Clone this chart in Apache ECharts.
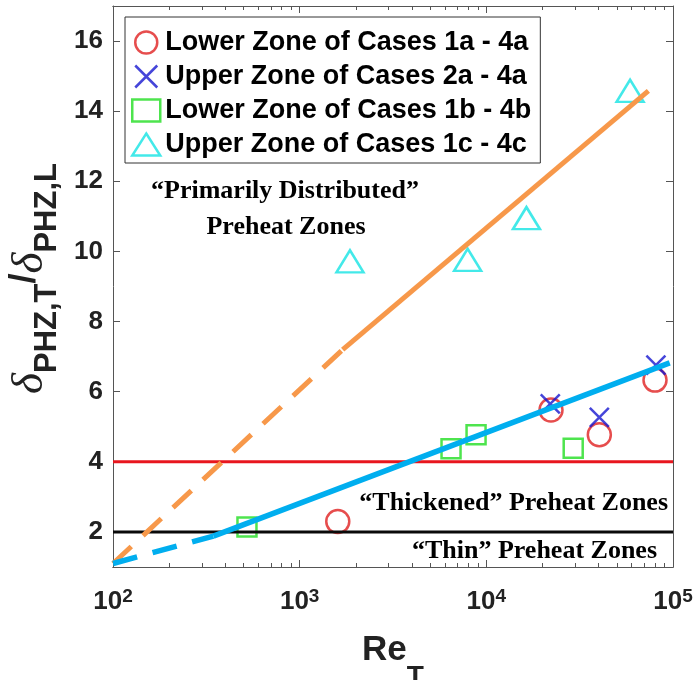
<!DOCTYPE html>
<html><head><meta charset="utf-8">
<script src="https://cdn.jsdelivr.net/npm/echarts@6/dist/echarts.min.js"></script>
<style>html,body{margin:0;padding:0;background:#fff}#c{width:697px;height:680px}</style>
</head><body><div id="c"></div>
<script>
// ---- data ----
const seriesNames = ['Lower Zone of Cases 1a - 4a','Upper Zone of Cases 2a - 4a','Lower Zone of Cases 1b - 4b','Upper Zone of Cases 1c - 4c'];
const lowerA_x = [1600, 22200, 40300, 80100];
const lowerA_y = [2.30, 5.48, 4.77, 6.33];
const upperA_x = [22000, 40300, 81000];
const upperA_y = [5.65, 5.27, 6.76];
const lowerB_x = [522, 6470, 8810, 29200];
const lowerB_y = [2.14, 4.37, 4.77, 4.39];
const upperC_x = [1860, 7940, 16400, 58900];
const upperC_y = [9.72, 9.76, 10.95, 14.58];
// fitted trend lines (end points)
const orangeDash_x = [100, 1700];   const orangeDash_y = [1.1, 7.2];
const orangeSolid_x = [1700, 73800]; const orangeSolid_y = [7.2, 14.58];
const blueDash_x = [100, 345];      const blueDash_y = [1.1, 1.88];
const blueSolid_x = [345, 96000];   const blueSolid_y = [1.88, 6.82];
const redLine_x = [100, 100000];    const redLine_y = [4, 4];
const blackLine_x = [100, 100000];  const blackLine_y = [2, 2];
// ticks
const xMajor = [100, 1000, 10000, 100000];
const xMinor = [200,300,400,500,600,700,800,900,2000,3000,4000,5000,6000,7000,8000,9000,20000,30000,40000,50000,60000,70000,80000,90000];
const yTicks = [2, 4, 6, 8, 10, 12, 14, 16];

const zip = (a, b) => a.map((v, i) => [v, b[i]]);
const SANS = 'Liberation Sans', SERIF = 'Liberation Serif';
const AX = '#555';

const xSymbol = 'path://M0,0L10,10M10,0L0,10';

function xBase(pos, len, vals, labels) {
  return {
    type: 'log', logBase: 10, min: 100, max: 100000, position: pos,
    axisLine: { show: true, onZero: false, lineStyle: { color: AX, width: 1 } },
    splitLine: { show: false }, minorTick: { show: false },
    axisTick: { show: true, inside: true, length: len, customValues: vals, lineStyle: { color: AX, width: 1 } },
    axisLabel: labels ? labels : { show: false }
  };
}
function yBase(pos, labels) {
  return {
    type: 'value', min: 1, max: 17, position: pos,
    axisLine: { show: true, onZero: false, lineStyle: { color: AX, width: 1 } },
    splitLine: { show: false },
    axisTick: { show: true, inside: true, length: 7, customValues: yTicks, lineStyle: { color: AX, width: 1 } },
    axisLabel: labels ? labels : { show: false }
  };
}

const xLabels = {
  show: true, customValues: xMajor, margin: 20,
  formatter: v => '{b|10}{p|' + Math.round(Math.log10(v)) + '}',
  rich: {
    b: { fontFamily: SANS, fontWeight: 'bold', fontSize: 26, color: '#222', lineHeight: 28, verticalAlign: 'bottom' },
    p: { fontFamily: SANS, fontWeight: 'bold', fontSize: 19, color: '#222', lineHeight: 12, verticalAlign: 'top' }
  }
};
const yLabels = {
  show: true, customValues: yTicks, margin: 10,
  fontFamily: SANS, fontWeight: 'bold', fontSize: 26, color: '#222'
};

const xa0 = xBase('bottom', 7, xMajor, xLabels);
xa0.name = '{b|Re}{t|T}';
xa0.nameLocation = 'middle';
xa0.nameGap = 66;
xa0.nameTextStyle = { rich: {
  b: { fontFamily: SANS, fontWeight: 'bold', fontSize: 35, color: '#222', lineHeight: 36, verticalAlign: 'top' },
  t: { fontFamily: SANS, fontWeight: 'bold', fontSize: 28, color: '#222', lineHeight: 58, verticalAlign: 'bottom' }
}};

const ya0 = yBase('left', yLabels);
ya0.name = '{d|δ}{s|PHZ,T}{sl|/}{d|δ}{s|PHZ,L}';
ya0.nameLocation = 'middle';
ya0.nameRotate = 90;
ya0.nameGap = 36;
ya0.nameTextStyle = { padding: [0, 0, 0, 16], rich: {
  d: { fontFamily: SERIF, fontStyle: 'italic', fontSize: 45, color: '#222', lineHeight: 36, verticalAlign: 'top' },
  s: { fontFamily: SANS, fontWeight: 'bold', fontSize: 31, color: '#222', lineHeight: 56, verticalAlign: 'bottom' },
  sl: { fontFamily: SANS, fontWeight: 'bold', fontSize: 36, color: '#222', lineHeight: 36, verticalAlign: 'top' }
}};

function lineSeries(xs, ys, color, width, type) {
  return { type: 'line', data: zip(xs, ys), showSymbol: false, symbol: 'none', silent: true, z: 5,
    lineStyle: { color: color, width: width, type: type, cap: 'butt' } };
}

const option = {
  animation: false,
  backgroundColor: '#fff',
  grid: { left: 113, right: 24, top: 6, bottom: 113, containLabel: false, outerBoundsMode: 'none' },
  xAxis: [ xa0, xBase('bottom', 4, xMinor), xBase('top', 7, xMajor), xBase('top', 4, xMinor) ],
  yAxis: [ ya0, yBase('right') ],
  legend: {
    orient: 'vertical', left: 125, top: 17,
    itemWidth: 28, itemHeight: 22, itemGap: 7,
    padding: [12, 9, 5, 6],
    borderColor: '#333', borderWidth: 1, backgroundColor: '#fff',
    textStyle: { fontFamily: SANS, fontWeight: 'bold', fontSize: 27, color: '#000' },
    itemStyle: { borderWidth: 2.5 },
    data: seriesNames
  },
  graphic: [
    { type: 'text', x: 285, y: 191, style: { text: '\u201cPrimarily Distributed\u201d', fontFamily: SERIF, fontWeight: 'bold', fontSize: 26, fill: '#000', align: 'center', verticalAlign: 'middle' } },
    { type: 'text', x: 286, y: 227, style: { text: 'Preheat Zones', fontFamily: SERIF, fontWeight: 'bold', fontSize: 26, fill: '#000', align: 'center', verticalAlign: 'middle' } },
    { type: 'text', x: 668, y: 503, style: { text: '\u201cThickened\u201d Preheat Zones', fontFamily: SERIF, fontWeight: 'bold', fontSize: 26, fill: '#000', align: 'right', verticalAlign: 'middle' } },
    { type: 'text', x: 657, y: 551, style: { text: '\u201cThin\u201d Preheat Zones', fontFamily: SERIF, fontWeight: 'bold', fontSize: 26, fill: '#000', align: 'right', verticalAlign: 'middle' } }
  ],
  series: [
    { name: seriesNames[0], type: 'scatter', data: zip(lowerA_x, lowerA_y), symbol: 'circle', symbolSize: 23, z: 2,
      itemStyle: { color: 'rgba(0,0,0,0)', borderColor: '#e02020', borderWidth: 2.5 } },
    { name: seriesNames[1], type: 'scatter', data: zip(upperA_x, upperA_y), symbol: xSymbol, symbolSize: 19, z: 3,
      itemStyle: { color: 'rgba(0,0,0,0)', borderColor: '#1616d0', borderWidth: 2.5 } },
    { name: seriesNames[2], type: 'scatter', data: zip(lowerB_x, lowerB_y), symbol: 'rect', symbolSize: 19, z: 2,
      itemStyle: { color: 'rgba(0,0,0,0)', borderColor: '#22dd22', borderWidth: 2.5 } },
    { name: seriesNames[3], type: 'scatter', data: zip(upperC_x, upperC_y), symbol: 'triangle', symbolSize: [27, 22], z: 2,
      itemStyle: { color: 'rgba(0,0,0,0)', borderColor: '#14e4e4', borderWidth: 2.5 } },
    lineSeries(redLine_x, redLine_y, '#e8161e', 3, 'solid'),
    lineSeries(blackLine_x, blackLine_y, '#0a0a0a', 3, 'solid'),
    lineSeries(orangeDash_x, orangeDash_y, '#f7984a', 5, [25, 16]),
    lineSeries(orangeSolid_x, orangeSolid_y, '#f7984a', 5, 'solid'),
    lineSeries(blueDash_x, blueDash_y, '#00aeef', 5.5, [25, 16]),
    lineSeries(blueSolid_x, blueSolid_y, '#00aeef', 5.5, 'solid')
  ]
};
const chart = echarts.init(document.getElementById('c'));
chart.setOption(option);
</script></body></html>
